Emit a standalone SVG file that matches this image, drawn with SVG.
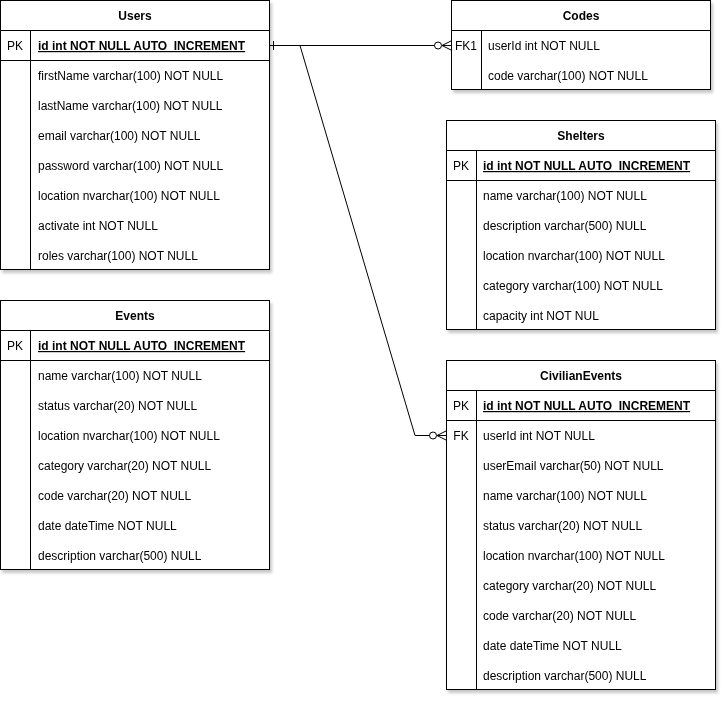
<svg xmlns="http://www.w3.org/2000/svg" width="727" height="702" viewBox="0 0 727 702">
<defs>
<filter id="sh" x="-5%" y="-5%" width="115%" height="115%">
<feDropShadow dx="2" dy="3" stdDeviation="1.5" flood-color="#000" flood-opacity="0.22"/>
</filter>
</defs>
<style>
text{font-family:"Liberation Sans",Arial,Helvetica,sans-serif;font-size:12px;fill:#000}
.h{font-weight:bold;text-anchor:middle}
.k{text-anchor:middle}
.pk{font-weight:bold;text-decoration:underline}
.box{fill:#fff;stroke:#000;stroke-width:1}
.ln{stroke:#000;stroke-width:1;fill:none}
</style>
<rect width="727" height="702" fill="#fff"/>

<g id="users" filter="url(#sh)">
<rect class="box" x="0.5" y="0.5" width="269" height="269"/>
<line class="ln" x1="0.5" y1="30.5" x2="269.5" y2="30.5"/>
<line class="ln" x1="0.5" y1="60.5" x2="269.5" y2="60.5"/>
<line class="ln" x1="30.5" y1="30.5" x2="30.5" y2="269.5"/>
<text class="h" x="135" y="20">Users</text>
<text class="k" x="15" y="50">PK</text>
<text class="pk" x="38" y="50">id int NOT NULL AUTO_INCREMENT</text>
<text x="38" y="80">firstName varchar(100) NOT NULL</text>
<text x="38" y="110">lastName varchar(100) NOT NULL</text>
<text x="38" y="140">email varchar(100) NOT NULL</text>
<text x="38" y="170">password varchar(100) NOT NULL</text>
<text x="38" y="200">location nvarchar(100) NOT NULL</text>
<text x="38" y="230">activate int NOT NULL</text>
<text x="38" y="260">roles varchar(100) NOT NULL</text>
</g>

<g id="events" filter="url(#sh)">
<rect class="box" x="0.5" y="300.5" width="269" height="269"/>
<line class="ln" x1="0.5" y1="330.5" x2="269.5" y2="330.5"/>
<line class="ln" x1="0.5" y1="360.5" x2="269.5" y2="360.5"/>
<line class="ln" x1="30.5" y1="330.5" x2="30.5" y2="569.5"/>
<text class="h" x="135" y="320">Events</text>
<text class="k" x="15" y="350">PK</text>
<text class="pk" x="38" y="350">id int NOT NULL AUTO_INCREMENT</text>
<text x="38" y="380">name varchar(100) NOT NULL</text>
<text x="38" y="410">status varchar(20) NOT NULL</text>
<text x="38" y="440">location nvarchar(100) NOT NULL</text>
<text x="38" y="470">category varchar(20) NOT NULL</text>
<text x="38" y="500">code varchar(20) NOT NULL</text>
<text x="38" y="530">date dateTime NOT NULL</text>
<text x="38" y="560">description varchar(500) NULL</text>
</g>

<g id="codes" filter="url(#sh)">
<rect class="box" x="451.5" y="0.5" width="259" height="89"/>
<line class="ln" x1="451.5" y1="30.5" x2="710.5" y2="30.5"/>
<line class="ln" x1="481.5" y1="30.5" x2="481.5" y2="89.5"/>
<text class="h" x="581" y="20">Codes</text>
<text class="k" x="466" y="50">FK1</text>
<text x="488" y="50">userId int NOT NULL</text>
<text x="488" y="80">code varchar(100) NOT NULL</text>
</g>

<g id="shelters" filter="url(#sh)">
<rect class="box" x="446.5" y="120.5" width="269" height="209"/>
<line class="ln" x1="446.5" y1="150.5" x2="715.5" y2="150.5"/>
<line class="ln" x1="446.5" y1="180.5" x2="715.5" y2="180.5"/>
<line class="ln" x1="476.5" y1="150.5" x2="476.5" y2="329.5"/>
<text class="h" x="581" y="140">Shelters</text>
<text class="k" x="461" y="170">PK</text>
<text class="pk" x="483" y="170">id int NOT NULL AUTO_INCREMENT</text>
<text x="483" y="200">name varchar(100) NOT NULL</text>
<text x="483" y="230">description varchar(500) NULL</text>
<text x="483" y="260">location nvarchar(100) NOT NULL</text>
<text x="483" y="290">category varchar(100) NOT NULL</text>
<text x="483" y="320">capacity int NOT NUL</text>
</g>

<g id="civilianevents" filter="url(#sh)">
<rect class="box" x="446.5" y="360.5" width="269" height="329"/>
<line class="ln" x1="446.5" y1="390.5" x2="715.5" y2="390.5"/>
<line class="ln" x1="446.5" y1="420.5" x2="715.5" y2="420.5"/>
<line class="ln" x1="476.5" y1="390.5" x2="476.5" y2="689.5"/>
<text class="h" x="581" y="380">CivilianEvents</text>
<text class="k" x="461" y="410">PK</text>
<text class="pk" x="483" y="410">id int NOT NULL AUTO_INCREMENT</text>
<text class="k" x="461" y="440">FK</text>
<text x="483" y="440">userId int NOT NULL</text>
<text x="483" y="470">userEmail varchar(50) NOT NULL</text>
<text x="483" y="500">name varchar(100) NOT NULL</text>
<text x="483" y="530">status varchar(20) NOT NULL</text>
<text x="483" y="560">location nvarchar(100) NOT NULL</text>
<text x="483" y="590">category varchar(20) NOT NULL</text>
<text x="483" y="620">code varchar(20) NOT NULL</text>
<text x="483" y="650">date dateTime NOT NULL</text>
<text x="483" y="680">description varchar(500) NULL</text>
</g>

<g id="connectors">
<path class="ln" d="M270,45.5 H434.5"/>
<line class="ln" x1="273.5" y1="41" x2="273.5" y2="50"/>
<circle class="ln" cx="438" cy="45.5" r="3.5" fill="#fff"/>
<path class="ln" d="M451,41 L442,45.5 L451,50 M442,45.5 H451"/>
<path class="ln" d="M300,45.5 L415,435.5 H429.5"/>
<circle class="ln" cx="433" cy="435.5" r="3.5" fill="#fff"/>
<path class="ln" d="M446,431 L437,435.5 L446,440 M437,435.5 H446"/>
</g>
</svg>
